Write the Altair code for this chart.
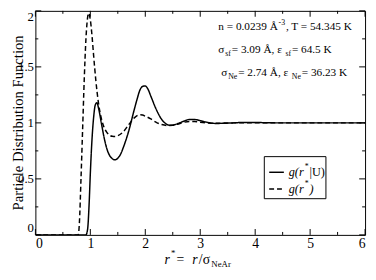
import altair as alt
import pandas as pd

# ---- data ----
r_u = [0.0, 0.92, 0.95, 0.98, 1.0, 1.03, 1.06, 1.09, 1.12, 1.15, 1.2, 1.25, 1.3, 1.35, 1.4, 1.45,
       1.5, 1.55, 1.6, 1.7, 1.8, 1.85, 1.9, 1.95, 2.0, 2.05, 2.1, 2.2, 2.3, 2.4, 2.45, 2.5, 2.6,
       2.7, 2.8, 2.9, 3.0, 3.1, 3.2, 3.3, 3.4, 3.6, 3.8, 4.0, 4.2, 4.5, 6.0]
g_u = [0.0, 0.0, 0.05, 0.3, 0.55, 0.85, 1.05, 1.16, 1.18, 1.13, 1.0, 0.87, 0.77, 0.71, 0.68, 0.67,
       0.685, 0.72, 0.78, 0.93, 1.12, 1.21, 1.29, 1.325, 1.33, 1.30, 1.24, 1.12, 1.03, 0.985, 0.978,
       0.98, 0.995, 1.015, 1.03, 1.03, 1.02, 1.008, 0.998, 0.995, 0.996, 1.0, 1.004, 1.004, 1.001,
       1.0, 1.0]

r_g = [0.0, 0.78, 0.8, 0.83, 0.86, 0.89, 0.92, 0.95, 0.97, 1.0, 1.03, 1.06, 1.1, 1.15, 1.2, 1.25,
       1.3, 1.35, 1.4, 1.45, 1.5, 1.6, 1.7, 1.8, 1.9, 1.95, 2.0, 2.1, 2.2, 2.3, 2.4, 2.5, 2.6, 2.7,
       2.8, 2.9, 3.0, 3.2, 3.4, 3.6, 3.8, 4.2, 6.0]
g_g = [0.0, 0.0, 0.1, 0.5, 0.95, 1.4, 1.75, 1.94, 1.98, 1.92, 1.78, 1.6, 1.38, 1.17, 1.04, 0.96,
       0.915, 0.89, 0.88, 0.878, 0.885, 0.92, 0.985, 1.045, 1.072, 1.07, 1.06, 1.035, 1.005, 0.985,
       0.977, 0.978, 0.99, 1.005, 1.012, 1.012, 1.006, 0.997, 0.998, 1.0, 1.002, 1.0, 1.0]

series_names = ["g(r*|U)", "g(r*)"]
x_major = [0, 1, 2, 3, 4, 5, 6]
x_minor = [0.5, 1.5, 2.5, 3.5, 4.5, 5.5]
y_major = [0, 0.5, 1, 1.5, 2]
y_minor = [0.25, 0.75, 1.25, 1.75]

ann_line1 = [("n = 0.0239 Å", "m"), ("-3", "sup"), (", T = 54.345 K", "m")]
ann_line2 = [("σ", "m"), ("sf", "sub"), (" = 3.09 Å, ε", "m"), ("sf", "sub"), (" = 64.5 K", "m")]
ann_line3 = [("σ", "m"), ("Ne", "sub"), (" = 2.74 Å, ε", "m"), ("Ne", "sub"), (" = 36.23 K", "m")]

W, H = 337, 229
FONT = "Liberation Serif"

df = pd.concat([
    pd.DataFrame({"r": r_u, "g": g_u, "series": series_names[0]}),
    pd.DataFrame({"r": r_g, "g": g_g, "series": series_names[1]}),
])

xs = alt.Scale(domain=[0, 6], nice=False, zero=False)
ys = alt.Scale(domain=[0, 2], nice=False, zero=False)

lines = alt.Chart(df).mark_line(interpolate="monotone", color="black", strokeWidth=1.5, clip=True).encode(
    x=alt.X("r:Q", scale=xs, axis=alt.Axis(values=x_major, ticks=False, domain=False, grid=False,
                                           labelFont=FONT, labelFontSize=14, labelColor="black",
                                           labelPadding=2, title=None, format="d")),
    y=alt.Y("g:Q", scale=ys, axis=alt.Axis(values=y_major, ticks=False, domain=False, grid=False,
                                           labelFont=FONT, labelFontSize=13, labelColor="black",
                                           labelPadding=2, labelFlush=True, title=None, format=".1~f")),
    strokeDash=alt.StrokeDash("series:N", scale=alt.Scale(domain=series_names, range=[[1, 0], [5, 3]]),
                              legend=None),
)

layers = [lines]

def tick_layer(vals, axis, side, length):
    d = pd.DataFrame({"v": vals})
    if axis == "x":
        if side == "bottom":
            enc = dict(x=alt.X("v:Q", scale=xs), y=alt.value(H), y2=alt.value(H - length))
        else:
            enc = dict(x=alt.X("v:Q", scale=xs), y=alt.value(0), y2=alt.value(length))
    else:
        if side == "left":
            enc = dict(y=alt.Y("v:Q", scale=ys), x=alt.value(0), x2=alt.value(length))
        else:
            enc = dict(y=alt.Y("v:Q", scale=ys), x=alt.value(W), x2=alt.value(W - length))
    return alt.Chart(d).mark_rule(color="black", strokeWidth=1).encode(**enc)

for side in ["bottom", "top"]:
    layers.append(tick_layer(x_major, "x", side, 6))
    layers.append(tick_layer(x_minor, "x", side, 3))
for side in ["left", "right"]:
    layers.append(tick_layer(y_major, "y", side, 6))
    layers.append(tick_layer(y_minor, "y", side, 3))

CW = {' ': 250, '=': 564, '.': 250, ',': 250, 'Å': 722, 'K': 722, 'T': 611, 'n': 500, 'σ': 550,
      'ε': 420, 's': 389, 'f': 333, 'N': 722, 'e': 444, '-': 333, 'A': 722, 'r': 333, '/': 278,
      'g': 500, '(': 333, ')': 333, '*': 500, '|': 200, 'U': 722}

def tw(t, size, italic=False):
    tot = 0
    for c in t:
        w = CW.get(c, 500)
        if italic and c == 'r':
            w = 389
        tot += w
    return tot * size / 1000.0

def text_seq(segs, x0, y0, main=11.5, small=8, sup_dy=-5, sub_dy=4, gap=0.8):
    out = []
    x = x0
    for item in segs:
        t, kind = item[0], item[1]
        italic = len(item) > 2 and item[2]
        size = main if kind == "m" else small
        dy = 0 if kind == "m" else (sup_dy if kind == "sup" else sub_dy)
        out.append(
            alt.Chart(pd.DataFrame({"t": [t]})).mark_text(
                align="left", baseline="middle", font=FONT, fontSize=size, color="black",
                fontStyle="italic" if italic else "normal"
            ).encode(text="t:N", x=alt.value(x), y=alt.value(y0 + dy))
        )
        x += tw(t, size, italic) + gap
    return out

# annotations (view-relative pixels)
layers += text_seq(ann_line1, 187, 17)
layers += text_seq(ann_line2, 187, 40)
layers += text_seq(ann_line3, 190, 64)

# legend
layers.append(alt.Chart(pd.DataFrame({"a": [0]})).mark_rect(fill="white", stroke="black", strokeWidth=1).encode(
    x=alt.value(234), x2=alt.value(297), y=alt.value(149), y2=alt.value(192)))
layers.append(alt.Chart(pd.DataFrame({"a": [0]})).mark_rule(color="black", strokeWidth=1.5).encode(
    x=alt.value(239), x2=alt.value(254), y=alt.value(165)))
layers.append(alt.Chart(pd.DataFrame({"a": [0]})).mark_rule(color="black", strokeWidth=1.5, strokeDash=[5, 3]).encode(
    x=alt.value(239), x2=alt.value(254), y=alt.value(182)))
layers += text_seq([("g(r", "m", True), ("*", "sup"), ("|U)", "m")], 259, 165, main=12.5, small=8, sup_dy=-5, gap=1)
layers += text_seq([("g(r", "m", True), ("*", "sup"), (")", "m", True)], 259, 182, main=12.5, small=8, sup_dy=-5, gap=1)

# x title
layers += text_seq([("r", "m", True), ("*", "sup"), (" = ", "m"), ("r", "m", True), ("/σ", "m"), ("NeAr", "sub")],
                   132, 255, main=14, small=9, sup_dy=-7, sub_dy=3.5, gap=1.2)

# y title
layers.append(alt.Chart(pd.DataFrame({"t": ["Particle Distribution Function"]})).mark_text(
    angle=270, align="center", baseline="alphabetic", font=FONT, fontSize=15, color="black"
).encode(text="t:N", x=alt.value(-13), y=alt.value(H / 2)))

chart = alt.layer(*layers).properties(
    width=W, height=H,
    autosize=alt.AutoSizeParams(type="none"),
    padding={"left": 28, "top": 0, "right": 3, "bottom": 35},
).configure_view(stroke="black", strokeWidth=1)

chart.save("out.html", embed_options={"renderer": "svg", "actions": False})
